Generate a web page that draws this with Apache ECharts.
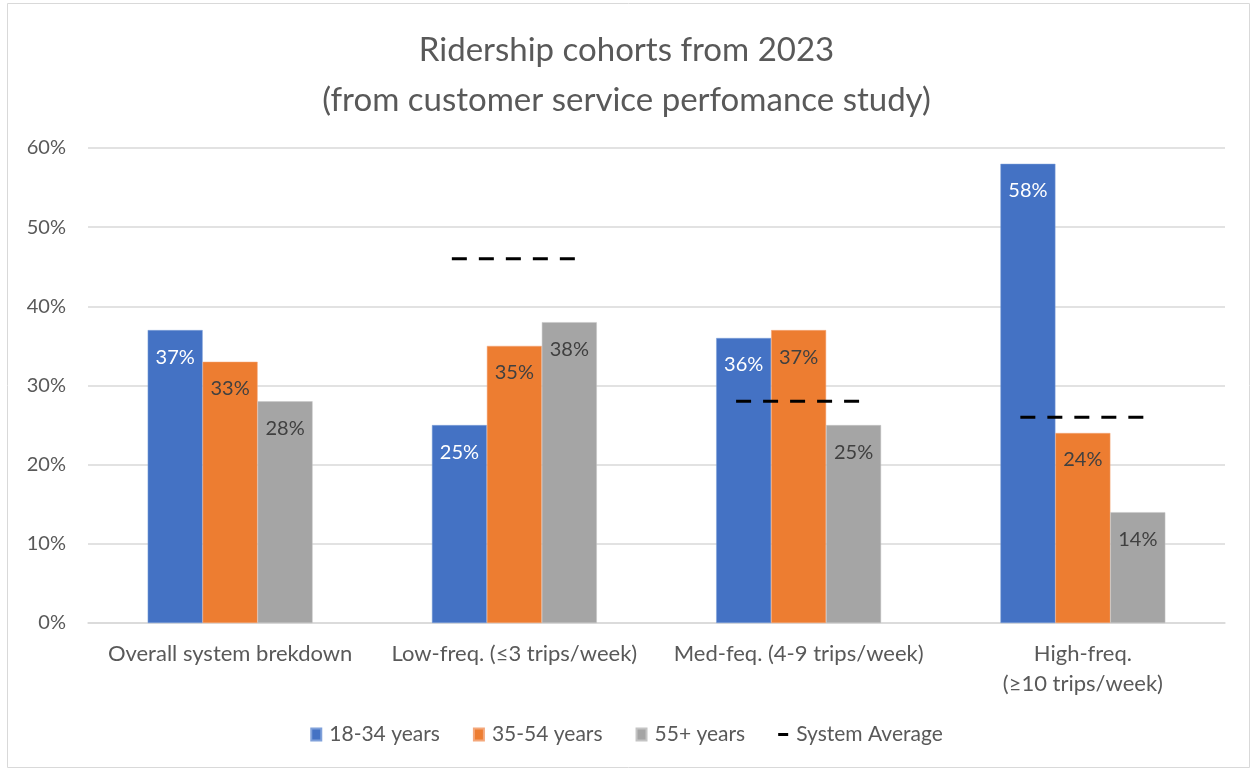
<!DOCTYPE html>
<html>
<head>
<meta charset="utf-8">
<script src="https://cdn.jsdelivr.net/npm/echarts@6/dist/echarts.min.js"></script>
<style>
html,body{margin:0;padding:0;background:#fff;}
#chart{width:1253px;height:771px;}
</style>
</head>
<body>
<div id="chart"></div>
<script>
const categories = ['Overall system brekdown', 'Low-freq. (≤3 trips/week)', 'Med-feq. (4-9 trips/week)', 'High-freq.\n(≥10 trips/week)'];
const age18_34 = [37, 25, 36, 58];
const age35_54 = [33, 35, 37, 24];
const age55plus = [28, 38, 25, 14];
const systemAverage = [null, 46, 28, 26];
const yTicks = [0, 10, 20, 30, 40, 50, 60];

const FONT = 'Lato';
const TXT = '#595959';

const chart = echarts.init(document.getElementById('chart'));

const labelCfg = (color) => ({
  show: true, position: 'insideTop', distance: 17,
  formatter: p => p.value + '%',
  color: color, fontFamily: FONT, fontSize: 20
});

const avgData = [];
systemAverage.forEach((v, i) => { if (v != null) avgData.push([i, v]); });

chart.setOption({
  animation: false,
  title: {
    text: 'Ridership cohorts from 2023\n(from customer service perfomance study)',
    left: 'center', top: 20,
    textStyle: { fontFamily: FONT, fontSize: 33, fontWeight: 'normal', color: TXT, lineHeight: 50 }
  },
  graphic: [{
    type: 'rect', shape: { x: 7.5, y: 3.5, width: 1242, height: 764 },
    style: { fill: 'none', stroke: '#d9d9d9', lineWidth: 1 }, silent: true, z: -10
  }],
  legend: {
    bottom: 21, left: 'center', itemGap: 33,
    itemWidth: 10, itemHeight: 12,
    textStyle: { fontFamily: FONT, fontSize: 21, color: TXT, padding: [0, 0, 0, 3] },
    data: [
      { name: '18-34 years', icon: 'rect' },
      { name: '35-54 years', icon: 'rect' },
      { name: '55+ years', icon: 'rect' },
      { name: 'System Average', icon: 'path://M0,0 H10 V3 H0 Z' }
    ]
  },
  grid: { left: 88, right: 28, top: 148, bottom: 148 },
  xAxis: {
    type: 'category', data: categories,
    axisLine: { show: true, lineStyle: { color: '#d9d9d9', width: 1.5 } },
    axisTick: { show: false },
    axisLabel: { fontFamily: FONT, fontSize: 22, color: TXT, margin: 16, lineHeight: 30, interval: 0 }
  },
  yAxis: {
    type: 'value', min: yTicks[0], max: yTicks[yTicks.length - 1], interval: 10,
    axisLabel: { formatter: '{value}%', fontFamily: FONT, fontSize: 20, color: TXT, margin: 22 },
    splitLine: { lineStyle: { color: '#d9d9d9', width: 1.5 } },
    axisLine: { show: false }, axisTick: { show: false }
  },
  series: [
    { name: '18-34 years', type: 'bar', data: age18_34, barGap: '0%', barCategoryGap: '42%',
      itemStyle: { color: '#4472C4', borderColor: '#7fa0d9', borderWidth: 0.5 }, label: labelCfg('#ffffff') },
    { name: '35-54 years', type: 'bar', data: age35_54,
      itemStyle: { color: '#ED7D31', borderColor: '#f4a77a', borderWidth: 0.5 }, label: labelCfg('#404040') },
    { name: '55+ years', type: 'bar', data: age55plus,
      itemStyle: { color: '#A5A5A5', borderColor: '#c4c4c4', borderWidth: 0.5 }, label: labelCfg('#404040') },
    { name: 'System Average', type: 'custom', data: avgData, encode: { x: 0, y: 1 },
      itemStyle: { color: '#000' }, z: 5,
      renderItem: function (params, api) {
        const c = api.coord([api.value(0), api.value(1)]);
        const w = api.size([1, 0])[0] * 0.44;
        return {
          type: 'line',
          shape: { x1: c[0] - w / 2, y1: c[1], x2: c[0] + w / 2, y2: c[1] },
          style: { stroke: '#000', lineWidth: 3, lineDash: [15, 12], fill: null }
        };
      }
    }
  ]
});
</script>
</body>
</html>
